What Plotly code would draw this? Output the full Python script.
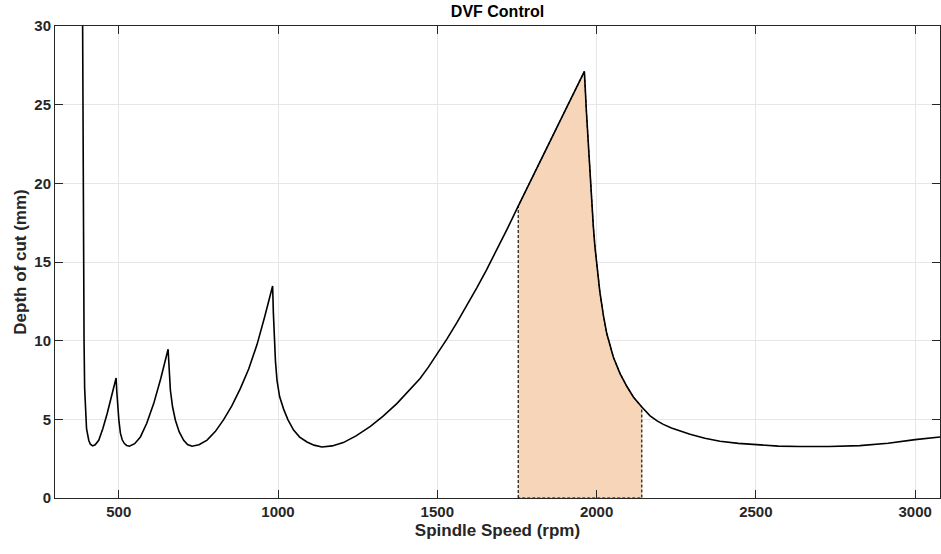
import plotly.graph_objects as go

# Stability lobe boundary (spindle speed rpm, depth of cut mm)
speed = [386.5, 387.5, 388.5, 389.8, 391.2, 393.0, 395.5, 399.0, 405.9, 411.0, 418.4, 426.0,
         437.3, 450.0, 463.6, 478.0, 491.8, 494.0, 497.0, 500.5, 505.3, 511.0, 517.9, 525.0,
         533.6, 550.0, 568.1, 588.0, 609.8, 632.0, 655.0, 658.5, 662.2, 669.0, 677.9, 690.0,
         703.9, 716.0, 730.2, 752.0, 777.3, 803.0, 829.4, 855.0, 881.7, 908.0, 934.1, 958.0,
         983.1, 985.5, 988.4, 992.0, 996.9, 1005.0, 1017.6, 1031.0, 1048.9, 1068.0, 1091.0,
         1113.0, 1138.0, 1170.0, 1205.0, 1245.0, 1290.0, 1330.0, 1373.0, 1410.0, 1446.0,
         1472.0, 1499.0, 1530.0, 1562.0, 1593.0, 1624.0, 1655.0, 1687.0, 1720.0, 1754.0,
         1783.0, 1812.0, 1849.0, 1885.0, 1923.0, 1961.7, 1968.0, 1974.3, 1980.0, 1985.0,
         1990.0, 1995.0, 2000.7, 2010.0, 2021.4, 2032.0, 2052.8, 2073.7, 2094.8, 2115.5,
         2142.0, 2168.0, 2190.0, 2209.6, 2235.0, 2262.0, 2293.3, 2340.0, 2387.4, 2445.0,
         2502.5, 2570.0, 2638.0, 2730.0, 2826.5, 2915.0, 3000.0, 3040.0, 3080.0]
depth = [31.0, 25.0, 19.0, 14.0, 10.0, 7.0, 5.36, 4.40, 3.67, 3.42, 3.31, 3.38,
         3.67, 4.40, 5.36, 6.45, 7.63, 6.75, 5.85, 4.95, 4.12, 3.70, 3.46, 3.34,
         3.29, 3.45, 3.88, 4.75, 6.00, 7.60, 9.45, 8.00, 6.85, 5.80, 4.94, 4.20,
         3.67, 3.40, 3.29, 3.39, 3.68, 4.22, 4.98, 5.85, 6.95, 8.20, 9.75, 11.50,
         13.47, 11.75, 10.02, 8.70, 7.48, 6.45, 5.65, 4.98, 4.32, 3.87, 3.56,
         3.36, 3.24, 3.31, 3.52, 3.95, 4.55, 5.20, 6.00, 6.78, 7.60,
         8.32, 9.12, 10.10, 11.16, 12.24, 13.36, 14.52, 15.75, 17.12, 18.55,
         19.75, 20.95, 22.48, 23.98, 25.54, 27.11, 24.60, 22.30, 20.30, 18.70,
         17.20, 15.95, 14.75, 13.15, 11.60, 10.45, 8.95, 7.91, 7.10, 6.42,
         5.78, 5.22, 4.90, 4.68, 4.45, 4.25, 4.05, 3.80, 3.61, 3.47,
         3.37, 3.30, 3.27, 3.27, 3.33, 3.48, 3.71, 3.80, 3.88]

# Highlighted stable speed window (rpm)
window_lo = 1754.0
window_hi = 2142.0

x_ticks = [500, 1000, 1500, 2000, 2500, 3000]
y_ticks = [0, 5, 10, 15, 20, 25, 30]

# Shaded polygon under the curve inside the window
wx = [window_lo] + [s for s in speed if window_lo <= s <= window_hi] + [window_hi, window_hi, window_lo]
wy = [0.0] + [d for s, d in zip(speed, depth) if window_lo <= s <= window_hi] + [0.0, 0.0, 0.0]

fig = go.Figure()
fig.add_trace(go.Scatter(
    x=wx, y=wy, mode="lines", fill="toself",
    fillcolor="#F6D5B9",
    line=dict(color="black", width=1.1, dash="3px,2px"),
    hoverinfo="skip", showlegend=False,
))
fig.add_trace(go.Scatter(
    x=speed, y=depth, mode="lines",
    line=dict(color="black", width=1.6),
    showlegend=False,
))

font_family = "Liberation Sans, Arial, Helvetica, sans-serif"
axis_common = dict(
    showline=True, linecolor="#262626", linewidth=1, mirror="ticks",
    ticks="inside", ticklen=8, tickwidth=1, tickcolor="#262626",
    showgrid=True, gridcolor="#E6E6E6", gridwidth=1, zeroline=False,
    tickfont=dict(family=font_family, size=15, color="#262626", weight="bold"),
)

fig.update_layout(
    width=941, height=554,
    margin=dict(l=55, r=1, t=26, b=56),
    paper_bgcolor="white", plot_bgcolor="white",
    title=dict(text="<b>DVF Control</b>", x=0.5, xref="paper", xanchor="center",
               y=1 - 11 / 554, yref="container", yanchor="middle",
               font=dict(family=font_family, size=16, color="black")),
    xaxis=dict(range=[300, 3078], tickvals=x_ticks,
               title=dict(text="<b>Spindle Speed (rpm)</b>", standoff=5,
                          font=dict(family=font_family, size=17, color="#262626")),
               **axis_common),
    yaxis=dict(range=[0, 30], tickvals=y_ticks,
               title=dict(text="<b>Depth of cut (mm)</b>", standoff=3,
                          font=dict(family=font_family, size=17, color="#262626")),
               **axis_common),
)

fig.write_html("out.html")
